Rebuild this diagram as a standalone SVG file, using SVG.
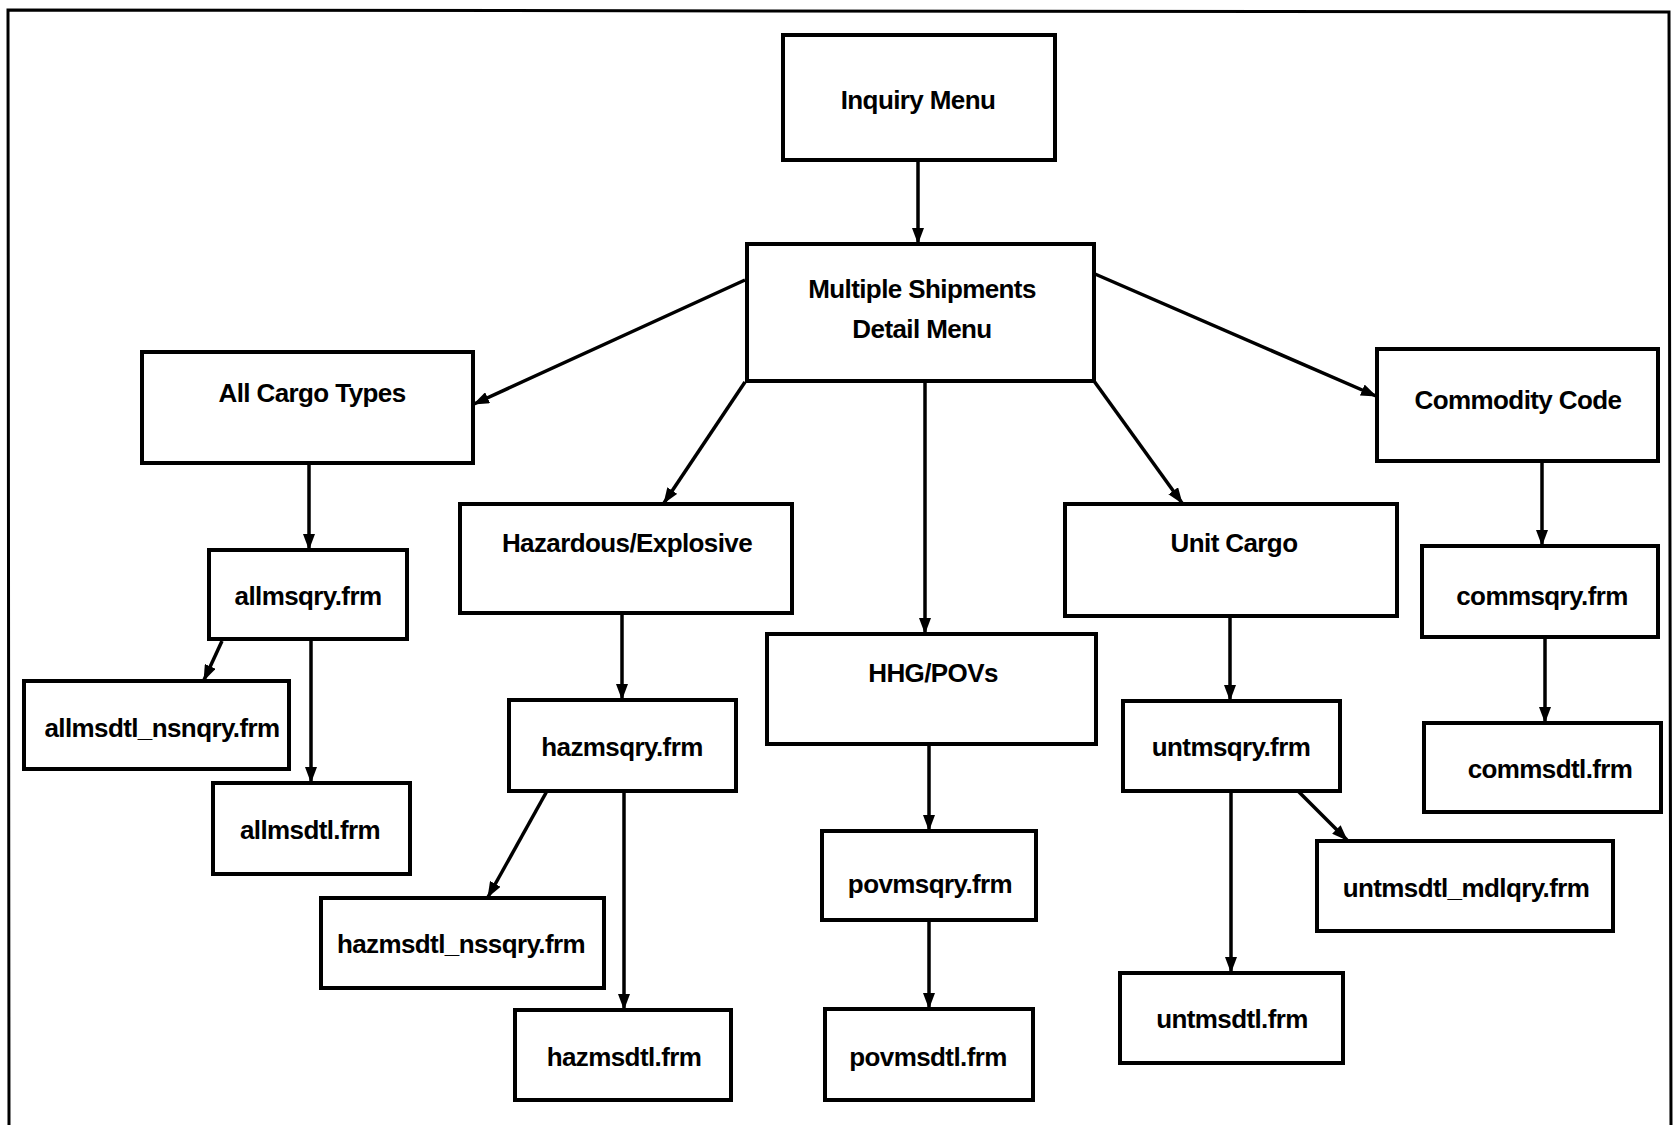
<svg xmlns="http://www.w3.org/2000/svg" width="1675" height="1125" viewBox="0 0 1675 1125">
<defs>
<style>
.box{fill:#fff;stroke:#000;stroke-width:4}
.t{font-family:"Liberation Sans",Arial,sans-serif;font-weight:bold;font-size:26px;text-anchor:middle;fill:#000;letter-spacing:-0.6px}
.c{stroke:#000;stroke-width:3.5;fill:none;marker-end:url(#ah)}
</style>
<marker id="ah" viewBox="0 0 16 12" refX="15" refY="6" markerWidth="16" markerHeight="12" markerUnits="userSpaceOnUse" orient="auto">
<path d="M0,0 L16,6 L0,12 z" fill="#000"/>
</marker>
</defs>
<rect width="1675" height="1125" fill="#fff"/>
<path d="M9,1125 L8,10 L1669,12 L1671,1125" fill="none" stroke="#000" stroke-width="3"/>
<g id="connectors">
<line class="c" x1="918" y1="160" x2="918" y2="243"/>
<line class="c" x1="745" y1="280" x2="474" y2="404"/>
<line class="c" x1="745" y1="382" x2="664" y2="503"/>
<line class="c" x1="925" y1="381" x2="925" y2="633"/>
<line class="c" x1="1094" y1="381" x2="1182" y2="503"/>
<line class="c" x1="1095" y1="274" x2="1376" y2="396"/>
<line class="c" x1="309" y1="463" x2="309" y2="549"/>
<line class="c" x1="222" y1="641" x2="204" y2="680"/>
<line class="c" x1="311" y1="639" x2="311" y2="782"/>
<line class="c" x1="622" y1="613" x2="622" y2="699"/>
<line class="c" x1="547" y1="791" x2="488" y2="897"/>
<line class="c" x1="624" y1="791" x2="624" y2="1009"/>
<line class="c" x1="929" y1="744" x2="929" y2="830"/>
<line class="c" x1="929" y1="920" x2="929" y2="1008"/>
<line class="c" x1="1230" y1="616" x2="1230" y2="700"/>
<line class="c" x1="1231" y1="791" x2="1231" y2="972"/>
<line class="c" x1="1298" y1="791" x2="1347" y2="840"/>
<line class="c" x1="1542" y1="461" x2="1542" y2="545"/>
<line class="c" x1="1545" y1="637" x2="1545" y2="722"/>
</g>
<g id="inquiry-menu"><rect class="box" x="783" y="35" width="272" height="125"/><text class="t" x="918" y="109">Inquiry Menu</text></g>
<g id="multiple-shipments"><rect class="box" x="747" y="244" width="347" height="137"/><text class="t" x="922" y="298">Multiple Shipments</text><text class="t" x="922" y="338">Detail Menu</text></g>
<g id="all-cargo-types"><rect class="box" x="142" y="352" width="331" height="111"/><text class="t" x="312" y="402">All Cargo Types</text></g>
<g id="hazardous"><rect class="box" x="460" y="504" width="332" height="109"/><text class="t" x="627" y="552">Hazardous/Explosive</text></g>
<g id="hhg-povs"><rect class="box" x="767" y="634" width="329" height="110"/><text class="t" x="933" y="682">HHG/POVs</text></g>
<g id="unit-cargo"><rect class="box" x="1065" y="504" width="332" height="112"/><text class="t" x="1234" y="552">Unit Cargo</text></g>
<g id="commodity-code"><rect class="box" x="1377" y="349" width="281" height="112"/><text class="t" x="1518" y="409">Commodity Code</text></g>
<g id="allmsqry"><rect class="box" x="209" y="550" width="198" height="89"/><text class="t" x="308" y="605">allmsqry.frm</text></g>
<g id="allmsdtl-nsnqry"><rect class="box" x="24" y="681" width="265" height="88"/><text class="t" x="162" y="737">allmsdtl_nsnqry.frm</text></g>
<g id="allmsdtl"><rect class="box" x="213" y="783" width="197" height="91"/><text class="t" x="310" y="839">allmsdtl.frm</text></g>
<g id="hazmsqry"><rect class="box" x="509" y="700" width="227" height="91"/><text class="t" x="622" y="756">hazmsqry.frm</text></g>
<g id="hazmsdtl-nssqry"><rect class="box" x="321" y="898" width="283" height="90"/><text class="t" x="461" y="953">hazmsdtl_nssqry.frm</text></g>
<g id="hazmsdtl"><rect class="box" x="515" y="1010" width="216" height="90"/><text class="t" x="624" y="1066">hazmsdtl.frm</text></g>
<g id="povmsqry"><rect class="box" x="822" y="831" width="214" height="89"/><text class="t" x="930" y="893">povmsqry.frm</text></g>
<g id="povmsdtl"><rect class="box" x="825" y="1009" width="208" height="91"/><text class="t" x="928" y="1066">povmsdtl.frm</text></g>
<g id="untmsqry"><rect class="box" x="1123" y="701" width="217" height="90"/><text class="t" x="1231" y="756">untmsqry.frm</text></g>
<g id="untmsdtl"><rect class="box" x="1120" y="973" width="223" height="90"/><text class="t" x="1232" y="1028">untmsdtl.frm</text></g>
<g id="untmsdtl-mdlqry"><rect class="box" x="1317" y="841" width="296" height="90"/><text class="t" x="1466" y="897">untmsdtl_mdlqry.frm</text></g>
<g id="commsqry"><rect class="box" x="1422" y="546" width="236" height="91"/><text class="t" x="1542" y="605">commsqry.frm</text></g>
<g id="commsdtl"><rect class="box" x="1424" y="723" width="237" height="89"/><text class="t" x="1550" y="778">commsdtl.frm</text></g>
</svg>
